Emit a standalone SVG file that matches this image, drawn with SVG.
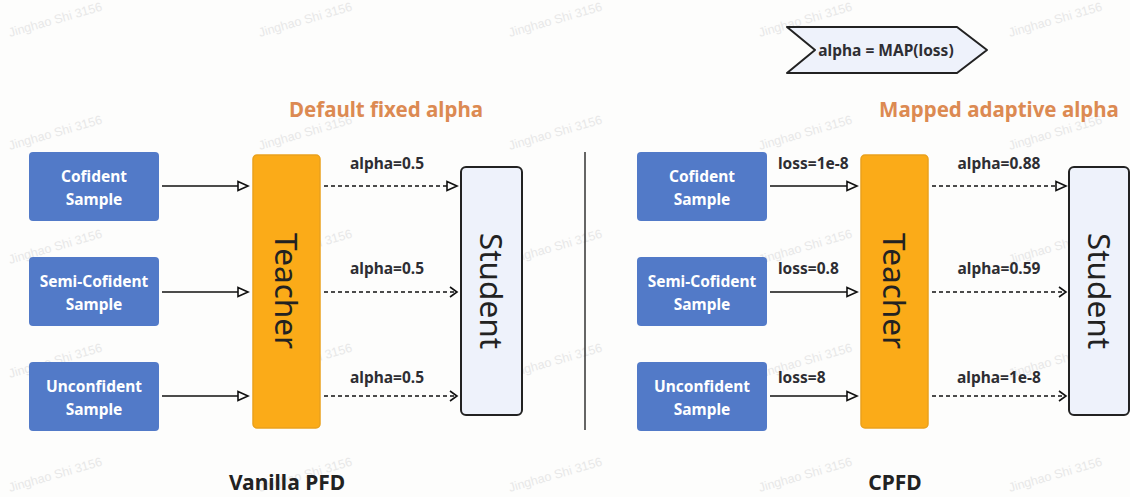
<svg xmlns="http://www.w3.org/2000/svg" width="1130" height="497" viewBox="0 0 1130 497">
<style>
.bg{fill:#fdfdfc}
.wm{font-family:"Liberation Sans",Arial,sans-serif;font-size:12.5px;fill:#e8e8e8}
.sample rect{fill:#527ac8}
.sample text{font-family:"Noto Sans",sans-serif;font-weight:bold;font-size:15.5px;fill:#ffffff;text-anchor:middle}
.teacher rect{fill:#fbab18;stroke:#eaa11c;stroke-width:1.5}
.student rect{fill:#eef2fb;stroke:#222;stroke-width:2}
.big{font-family:"Noto Sans",sans-serif;font-size:31.5px;fill:#222;text-anchor:middle}
.lbl{font-family:"Noto Sans",sans-serif;font-weight:bold;font-size:15.5px;fill:#2e2e33}
.title{font-family:"Noto Sans",sans-serif;font-weight:bold;font-size:20.5px;fill:#dc8a52;text-anchor:middle}
.cap{font-family:"Noto Sans",sans-serif;font-weight:bold;font-size:21px;fill:#222;text-anchor:middle}
.solid{stroke:#111;stroke-width:1.6;fill:none}
.dash{stroke:#111;stroke-width:1.6;fill:none;stroke-dasharray:4 3}
</style>
<defs>
<marker id="tri" markerUnits="userSpaceOnUse" markerWidth="14" markerHeight="14" refX="12" refY="7" orient="auto">
<path d="M2,2.5 L12,7 L2,11.5 Z" fill="#fdfdfc" stroke="#111" stroke-width="1.6"/>
</marker>
<marker id="vee" markerUnits="userSpaceOnUse" markerWidth="14" markerHeight="14" refX="12" refY="7" orient="auto">
<path d="M5,2 L12,7 L5,12" fill="none" stroke="#111" stroke-width="1.6"/>
</marker>
</defs>
<rect class="bg" x="0" y="0" width="1130" height="497"/>
<g id="watermarks">
<text class="wm" transform="translate(10,37) rotate(-16)">Jinghao Shi 3156</text>
<text class="wm" transform="translate(260,37) rotate(-16)">Jinghao Shi 3156</text>
<text class="wm" transform="translate(510,37) rotate(-16)">Jinghao Shi 3156</text>
<text class="wm" transform="translate(760,37) rotate(-16)">Jinghao Shi 3156</text>
<text class="wm" transform="translate(1010,37) rotate(-16)">Jinghao Shi 3156</text>
<text class="wm" transform="translate(10,150) rotate(-16)">Jinghao Shi 3156</text>
<text class="wm" transform="translate(260,150) rotate(-16)">Jinghao Shi 3156</text>
<text class="wm" transform="translate(510,150) rotate(-16)">Jinghao Shi 3156</text>
<text class="wm" transform="translate(760,150) rotate(-16)">Jinghao Shi 3156</text>
<text class="wm" transform="translate(1010,150) rotate(-16)">Jinghao Shi 3156</text>
<text class="wm" transform="translate(10,264) rotate(-16)">Jinghao Shi 3156</text>
<text class="wm" transform="translate(260,264) rotate(-16)">Jinghao Shi 3156</text>
<text class="wm" transform="translate(510,264) rotate(-16)">Jinghao Shi 3156</text>
<text class="wm" transform="translate(760,264) rotate(-16)">Jinghao Shi 3156</text>
<text class="wm" transform="translate(1010,264) rotate(-16)">Jinghao Shi 3156</text>
<text class="wm" transform="translate(10,378) rotate(-16)">Jinghao Shi 3156</text>
<text class="wm" transform="translate(260,378) rotate(-16)">Jinghao Shi 3156</text>
<text class="wm" transform="translate(510,378) rotate(-16)">Jinghao Shi 3156</text>
<text class="wm" transform="translate(760,378) rotate(-16)">Jinghao Shi 3156</text>
<text class="wm" transform="translate(1010,378) rotate(-16)">Jinghao Shi 3156</text>
<text class="wm" transform="translate(10,492) rotate(-16)">Jinghao Shi 3156</text>
<text class="wm" transform="translate(260,492) rotate(-16)">Jinghao Shi 3156</text>
<text class="wm" transform="translate(510,492) rotate(-16)">Jinghao Shi 3156</text>
<text class="wm" transform="translate(760,492) rotate(-16)">Jinghao Shi 3156</text>
<text class="wm" transform="translate(1010,492) rotate(-16)">Jinghao Shi 3156</text>
</g>
<g id="titles">
<text class="title" x="386" y="117">Default fixed alpha</text>
<text class="title" x="999" y="117">Mapped adaptive alpha</text>
<text class="cap" x="287" y="490">Vanilla PFD</text>
<text class="cap" x="895" y="490">CPFD</text>
</g>
<g id="map-formula">
<path d="M787,27 L957,27 L987,50 L957,73 L787,73 L815,50 Z" fill="#eef2fb" stroke="#222" stroke-width="2" stroke-linejoin="round"/>
<text class="lbl" x="886" y="56" text-anchor="middle">alpha = MAP(loss)</text>
</g>
<g id="divider"><line x1="585" y1="152" x2="585" y2="430" stroke="#333" stroke-width="1.5"/></g>
<g id="l-cof" class="sample"><rect x="29" y="152" width="130" height="69" rx="4"/><text x="94" y="182">Cofident</text><text x="94" y="205">Sample</text></g>
<g id="l-semi" class="sample"><rect x="29" y="257" width="130" height="69" rx="4"/><text x="94" y="287">Semi-Cofident</text><text x="94" y="310">Sample</text></g>
<g id="l-unc" class="sample"><rect x="29" y="362" width="130" height="69" rx="4"/><text x="94" y="392">Unconfident</text><text x="94" y="415">Sample</text></g>
<g id="l-teacher" class="teacher"><rect x="253" y="155" width="67" height="273" rx="4"/><text class="big" transform="translate(286,291) rotate(90)" dy="11">Teacher</text></g>
<g id="l-student" class="student"><rect x="461" y="167" width="61" height="248" rx="5"/><text class="big" transform="translate(491,291) rotate(90)" dy="11">Student</text></g>
<g id="r-cof" class="sample"><rect x="637" y="152" width="130" height="69" rx="4"/><text x="702" y="182">Cofident</text><text x="702" y="205">Sample</text></g>
<g id="r-semi" class="sample"><rect x="637" y="257" width="130" height="69" rx="4"/><text x="702" y="287">Semi-Cofident</text><text x="702" y="310">Sample</text></g>
<g id="r-unc" class="sample"><rect x="637" y="362" width="130" height="69" rx="4"/><text x="702" y="392">Unconfident</text><text x="702" y="415">Sample</text></g>
<g id="r-teacher" class="teacher"><rect x="861" y="155" width="67" height="273" rx="4"/><text class="big" transform="translate(894,291) rotate(90)" dy="11">Teacher</text></g>
<g id="r-student" class="student"><rect x="1069" y="167" width="60" height="248" rx="5"/><text class="big" transform="translate(1099,291) rotate(90)" dy="11">Student</text></g>
<g id="connectors">
<line class="solid" x1="162" y1="186" x2="248" y2="186" marker-end="url(#tri)"/>
<line class="solid" x1="162" y1="292" x2="248" y2="292" marker-end="url(#tri)"/>
<line class="solid" x1="162" y1="396" x2="248" y2="396" marker-end="url(#tri)"/>
<line class="dash" x1="324" y1="186" x2="457" y2="186" marker-end="url(#tri)"/>
<line class="dash" x1="324" y1="292" x2="457" y2="292" marker-end="url(#vee)"/>
<line class="dash" x1="324" y1="396" x2="457" y2="396" marker-end="url(#vee)"/>
<text class="lbl" x="387" y="169" text-anchor="middle">alpha=0.5</text>
<text class="lbl" x="387" y="274" text-anchor="middle">alpha=0.5</text>
<text class="lbl" x="387" y="383" text-anchor="middle">alpha=0.5</text>
<line class="solid" x1="770" y1="186" x2="857" y2="186" marker-end="url(#tri)"/>
<line class="solid" x1="770" y1="292" x2="857" y2="292" marker-end="url(#tri)"/>
<line class="solid" x1="770" y1="396" x2="857" y2="396" marker-end="url(#tri)"/>
<text class="lbl" x="778" y="169">loss=1e-8</text>
<text class="lbl" x="778" y="274">loss=0.8</text>
<text class="lbl" x="778" y="383">loss=8</text>
<line class="dash" x1="932" y1="186" x2="1066" y2="186" marker-end="url(#tri)"/>
<line class="dash" x1="932" y1="292" x2="1066" y2="292" marker-end="url(#vee)"/>
<line class="dash" x1="932" y1="396" x2="1066" y2="396" marker-end="url(#vee)"/>
<text class="lbl" x="999" y="169" text-anchor="middle">alpha=0.88</text>
<text class="lbl" x="999" y="274" text-anchor="middle">alpha=0.59</text>
<text class="lbl" x="999" y="383" text-anchor="middle">alpha=1e-8</text>
</g>
</svg>
